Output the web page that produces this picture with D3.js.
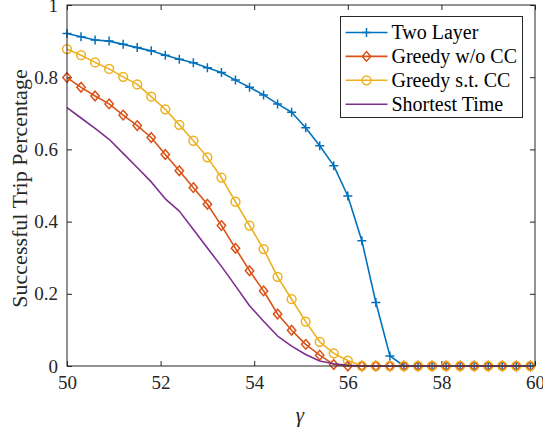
<!doctype html>
<html lang="en">
  <head>
    <meta charset="utf-8">
    <title>Successful Trip Percentage</title>
    <script src="https://d3js.org/d3.v7.min.js"></script>
    <style>
      body { margin: 0; background: #fff; }
      #chart svg { display: block; }
      #chart svg text { font-family: "Liberation Serif", "Times New Roman", serif; }
    </style>
  </head>
  <body>
    <div id="chart"></div>
<script>
// sampled gamma values (step 0.3)
const gamma = [50, 50.3, 50.6, 50.9, 51.2, 51.5, 51.8, 52.1, 52.4, 52.7,
  53, 53.3, 53.6, 53.9, 54.2, 54.5, 54.8, 55.1, 55.4, 55.7,
  56, 56.3, 56.6, 56.9, 57.2, 57.5, 57.8, 58.1, 58.4, 58.7,
  59, 59.3, 59.6, 59.9];

const twoLayer = [0.921, 0.912, 0.903, 0.900, 0.891, 0.882, 0.873, 0.861, 0.850, 0.840,
  0.826, 0.813, 0.792, 0.772, 0.751, 0.726, 0.703, 0.660, 0.610, 0.555,
  0.471, 0.347, 0.176, 0.028, 0, 0, 0, 0, 0, 0,
  0, 0, 0, 0];
const greedyNoCC = [0.799, 0.772, 0.748, 0.726, 0.695, 0.666, 0.633, 0.586, 0.541, 0.494,
  0.448, 0.389, 0.326, 0.264, 0.208, 0.144, 0.099, 0.060, 0.030, 0.004,
  0, 0, 0, 0, 0, 0, 0, 0, 0, 0,
  0, 0, 0, 0];
const greedyCC = [0.878, 0.861, 0.841, 0.823, 0.801, 0.780, 0.746, 0.711, 0.668, 0.624,
  0.578, 0.522, 0.455, 0.389, 0.324, 0.247, 0.185, 0.123, 0.067, 0.035,
  0.015, 0, 0, 0, 0, 0, 0, 0, 0, 0,
  0, 0, 0, 0];
const shortestTime = [0.716, 0.687, 0.658, 0.628, 0.589, 0.550, 0.510, 0.463, 0.429, 0.378,
  0.327, 0.276, 0.222, 0.167, 0.124, 0.083, 0.055, 0.032, 0.014, 0.006,
  0.002, 0, 0, 0, 0, 0, 0, 0, 0, 0,
  0, 0, 0, 0];

const seriesNames = ["Two Layer", "Greedy w/o CC", "Greedy s.t. CC", "Shortest Time"];
const xTicks = [50, 52, 54, 56, 58, 60];
const yTicks = [0, 0.2, 0.4, 0.6, 0.8, 1];
const yTickLabels = ["0", "0.2", "0.4", "0.6", "0.8", "1"];

const series = [
  {name: seriesNames[0], values: twoLayer, color: "#0072BD", marker: "plus"},
  {name: seriesNames[1], values: greedyNoCC, color: "#D95319", marker: "diamond"},
  {name: seriesNames[2], values: greedyCC, color: "#EDB120", marker: "circle"},
  {name: seriesNames[3], values: shortestTime, color: "#7E2F8E", marker: null}
];

const width = 543, height = 430;
const marginTop = 5, marginRight = 8, marginBottom = 64, marginLeft = 67;
const axisColor = "#262626";

const x = d3.scaleLinear([50, 60], [marginLeft, width - marginRight]);
const y = d3.scaleLinear([0, 1], [height - marginBottom, marginTop]);

const svg = d3.select("#chart").append("svg")
    .attr("width", width)
    .attr("height", height)
    .attr("viewBox", [0, 0, width, height]);

// axes: ticks point inward, mirrored on top and right
const tickLen = 5;
svg.append("g")
    .attr("transform", `translate(0,${y(0)})`)
    .call(d3.axisBottom(x).tickValues(xTicks).tickSize(-tickLen).tickPadding(10).tickFormat(d3.format("d")))
    .call(g => g.select(".domain").remove())
    .call(g => g.selectAll(".tick line").attr("stroke", axisColor))
    .call(g => g.selectAll(".tick text").attr("font-size", 19).attr("fill", axisColor));

svg.append("g")
    .attr("transform", `translate(0,${y(1)})`)
    .call(d3.axisTop(x).tickValues(xTicks).tickSize(-tickLen).tickFormat(""))
    .call(g => g.select(".domain").remove())
    .call(g => g.selectAll(".tick line").attr("stroke", axisColor));

svg.append("g")
    .attr("transform", `translate(${x(50)},0)`)
    .call(d3.axisLeft(y).tickValues(yTicks).tickSize(-tickLen).tickPadding(9)
        .tickFormat((d, i) => yTickLabels[i]))
    .call(g => g.select(".domain").remove())
    .call(g => g.selectAll(".tick line").attr("stroke", axisColor))
    .call(g => g.selectAll(".tick text").attr("font-size", 19).attr("fill", axisColor));

svg.append("g")
    .attr("transform", `translate(${x(60)},0)`)
    .call(d3.axisRight(y).tickValues(yTicks).tickSize(-tickLen).tickFormat(""))
    .call(g => g.select(".domain").remove())
    .call(g => g.selectAll(".tick line").attr("stroke", axisColor));

// lines + markers
const line = d3.line()
    .x((d, i) => x(gamma[i]))
    .y(d => y(d));

function drawMarker(g, type, color) {
  if (type === "plus") {
    g.append("path").attr("d", "M-4.5,0H4.5M0,-4.5V4.5")
        .attr("stroke", color).attr("stroke-width", 1.5).attr("fill", "none");
  } else if (type === "diamond") {
    g.append("path").attr("d", "M0,-4.8L4.2,0L0,4.8L-4.2,0Z")
        .attr("stroke", color).attr("stroke-width", 1.5).attr("fill", "none");
  } else if (type === "circle") {
    g.append("circle").attr("r", 4.4)
        .attr("stroke", color).attr("stroke-width", 1.5).attr("fill", "none");
  }
}

for (const s of series) {
  svg.append("path")
      .attr("d", line(s.values))
      .attr("fill", "none")
      .attr("stroke", s.color)
      .attr("stroke-width", 1.6)
      .attr("stroke-linejoin", "round");
  if (s.marker) {
    svg.append("g")
      .selectAll("g")
      .data(s.values)
      .join("g")
        .attr("transform", (d, i) => `translate(${x(gamma[i])},${y(d)})`)
        .each(function() { drawMarker(d3.select(this), s.marker, s.color); });
  }
}

// box
svg.append("rect")
    .attr("x", x(50)).attr("y", y(1))
    .attr("width", x(60) - x(50)).attr("height", y(0) - y(1))
    .attr("fill", "none").attr("stroke", axisColor).attr("stroke-width", 1);

// axis labels
svg.append("text")
    .attr("x", (x(50) + x(60)) / 2 - 1)
    .attr("y", 422)
    .attr("text-anchor", "middle")
    .attr("font-style", "italic")
    .attr("font-size", 21)
    .attr("fill", axisColor)
    .text("γ");

svg.append("text")
    .attr("transform", `translate(27,${(y(0) + y(1)) / 2 + 3}) rotate(-90)`)
    .attr("text-anchor", "middle")
    .attr("font-size", 22)
    .attr("fill", axisColor)
    .text("Successful Trip Percentage");

// legend
const legend = svg.append("g").attr("transform", "translate(340.5,16.5)");
legend.append("rect")
    .attr("width", 182).attr("height", 101)
    .attr("fill", "#fff").attr("stroke", axisColor).attr("stroke-width", 1);

const item = legend.selectAll("g.item")
  .data(series)
  .join("g")
    .attr("class", "item")
    .attr("transform", (d, i) => `translate(0,${16 + i * 23.9})`);

item.append("line")
    .attr("x1", 5).attr("x2", 47)
    .attr("stroke", d => d.color).attr("stroke-width", 1.6);
item.each(function(d) {
  const g = d3.select(this).append("g").attr("transform", "translate(26,0)");
  drawMarker(g, d.marker, d.color);
});
item.append("text")
    .attr("x", 51)
    .attr("dy", "0.33em")
    .attr("font-size", 20)
    .attr("fill", "#000")
    .text(d => d.name);
</script>
  </body>
</html>
